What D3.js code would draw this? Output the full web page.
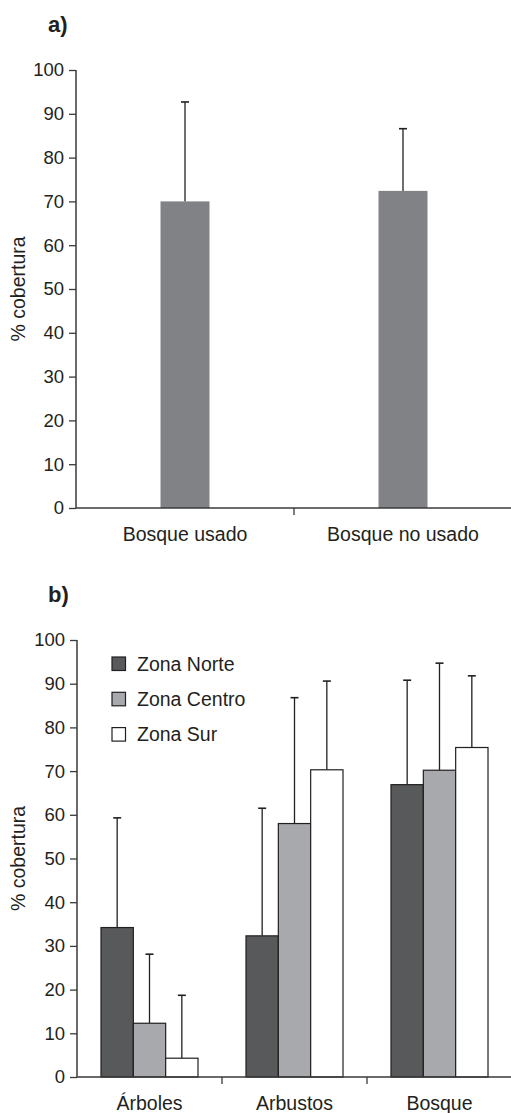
<!DOCTYPE html>
<html>
<head>
<meta charset="utf-8">
<script src="https://cdn.jsdelivr.net/npm/d3@7"></script>
<style>
  html, body { margin: 0; padding: 0; background: #fff; }
  svg { display: block; }
  text { font-family: "Liberation Sans", Arial, Helvetica, sans-serif; fill: #231f20; }
</style>
</head>
<body>
<svg id="chart" width="511" height="1113"></svg>
<script>
// ---- Data ----
const catsA = ["Bosque usado", "Bosque no usado"];
const meanA = [70, 72.4];
const errA = [92.7, 86.6];   // top of error bar

const catsB = ["Árboles", "Arbustos", "Bosque"];
const seriesB = ["Zona Norte", "Zona Centro", "Zona Sur"];
const norteMean = [34.2, 32.3, 66.9];
const norteErr  = [59.3, 61.5, 90.8];
const centroMean = [12.3, 58.0, 70.2];
const centroErr  = [28.1, 86.8, 94.7];
const surMean = [4.3, 70.3, 75.4];
const surErr  = [18.7, 90.6, 91.8];

const yTicks = [0, 10, 20, 30, 40, 50, 60, 70, 80, 90, 100];
const seriesColors = ["#58595b", "#a7a9ac", "#ffffff"];

const svg = d3.select("#chart");
const axisColor = "#3a3a3a";
const fontSize = 19.5;
const tickFont = 18.5;

function drawYAxis(g, y, x0, midY) {
  const ax = d3.axisLeft(y).tickValues(yTicks).tickSize(7).tickPadding(5).tickFormat(d3.format("d"));
  const ag = g.append("g").attr("transform", `translate(${x0},0)`).call(ax);
  ag.select(".domain").remove();
  ag.selectAll(".tick line").attr("stroke", axisColor).attr("stroke-width", 1.3);
  ag.selectAll(".tick text").style("font-size", tickFont + "px").attr("fill", "#231f20")
    .style("font-family", '"Liberation Sans", Arial, sans-serif');
  g.append("line").attr("x1", x0).attr("x2", x0).attr("y1", y(100)).attr("y2", y(0))
    .attr("stroke", axisColor).attr("stroke-width", 1.5);
  g.append("text").attr("transform", `translate(25,${midY}) rotate(-90)`)
    .attr("text-anchor", "middle").style("font-size", fontSize + "px").text("% cobertura");
}

function drawXAxis(g, x, y0) {
  const [r0, r1] = x.range();
  g.append("line").attr("x1", r0).attr("x2", r1).attr("y1", y0).attr("y2", y0)
    .attr("stroke", axisColor).attr("stroke-width", 1.5);
  x.domain().forEach((c, i) => {
    if (i > 0) {
      const bx = x(c);
      g.append("line").attr("x1", bx).attr("x2", bx).attr("y1", y0).attr("y2", y0 + 7)
        .attr("stroke", axisColor).attr("stroke-width", 1.3);
    }
    g.append("text").attr("x", x(c) + x.bandwidth() / 2).attr("y", y0 + 33)
      .attr("text-anchor", "middle").style("font-size", fontSize + "px").text(c);
  });
}

function drawErr(g, cx, yTop, yBase) {
  g.append("line").attr("x1", cx).attr("x2", cx).attr("y1", yTop).attr("y2", yBase)
    .attr("stroke", "#231f20").attr("stroke-width", 1.3);
  g.append("line").attr("x1", cx - 4).attr("x2", cx + 4).attr("y1", yTop).attr("y2", yTop)
    .attr("stroke", "#231f20").attr("stroke-width", 1.6);
}

// ---- Panel a ----
{
  const g = svg.append("g");
  const y = d3.scaleLinear().domain([0, 100]).range([508, 70]);
  const x = d3.scaleBand().domain(catsA).range([76, 512]).padding(0);
  const inner = d3.scaleBand().domain(["v"]).range([0, x.bandwidth()]).padding(0.633);

  g.append("text").attr("x", 48).attr("y", 32).style("font-size", "22px").style("font-weight", "bold").text("a)");

  catsA.forEach((c, i) => {
    const bx = x(c) + inner("v");
    const cx = bx + inner.bandwidth() / 2;
    drawErr(g, cx, y(errA[i]), y(meanA[i]));
    g.append("rect").attr("x", bx).attr("y", y(meanA[i])).attr("width", inner.bandwidth())
      .attr("height", y(0) - y(meanA[i])).attr("fill", "#808285");
  });
  drawXAxis(g, x, 508);
  drawYAxis(g, y, 76, (508 + 70) / 2);
}

// ---- Panel b ----
{
  const g = svg.append("g");
  const y = d3.scaleLinear().domain([0, 100]).range([1077, 640]);
  const x = d3.scaleBand().domain(catsB).range([77, 512]).padding(0);
  const inner = d3.scaleBand().domain(seriesB).range([0, x.bandwidth()]).paddingInner(0).paddingOuter(0.742);
  const means = [norteMean, centroMean, surMean];
  const errs = [norteErr, centroErr, surErr];

  g.append("text").attr("x", 48).attr("y", 602).style("font-size", "22px").style("font-weight", "bold").text("b)");

  catsB.forEach((c, i) => {
    seriesB.forEach((s, j) => {
      const bx = x(c) + inner(s);
      const cx = bx + inner.bandwidth() / 2;
      drawErr(g, cx, y(errs[j][i]), y(means[j][i]));
    });
    seriesB.forEach((s, j) => {
      const bx = x(c) + inner(s);
      g.append("rect").attr("x", bx).attr("y", y(means[j][i])).attr("width", inner.bandwidth())
        .attr("height", y(0) - y(means[j][i])).attr("fill", seriesColors[j])
        .attr("stroke", "#231f20").attr("stroke-width", 1.2);
    });
  });
  drawXAxis(g, x, 1077);
  drawYAxis(g, y, 77, (1077 + 640) / 2);

  // legend
  const leg = g.append("g");
  seriesB.forEach((s, j) => {
    const ly = 657 + j * 35.3;
    leg.append("rect").attr("x", 112).attr("y", ly).attr("width", 13.5).attr("height", 13.5)
      .attr("fill", seriesColors[j]).attr("stroke", "#231f20").attr("stroke-width", 1.2);
    leg.append("text").attr("x", 137).attr("y", ly + 13.5).style("font-size", fontSize + "px").text(s);
  });
}
</script>
</body>
</html>
